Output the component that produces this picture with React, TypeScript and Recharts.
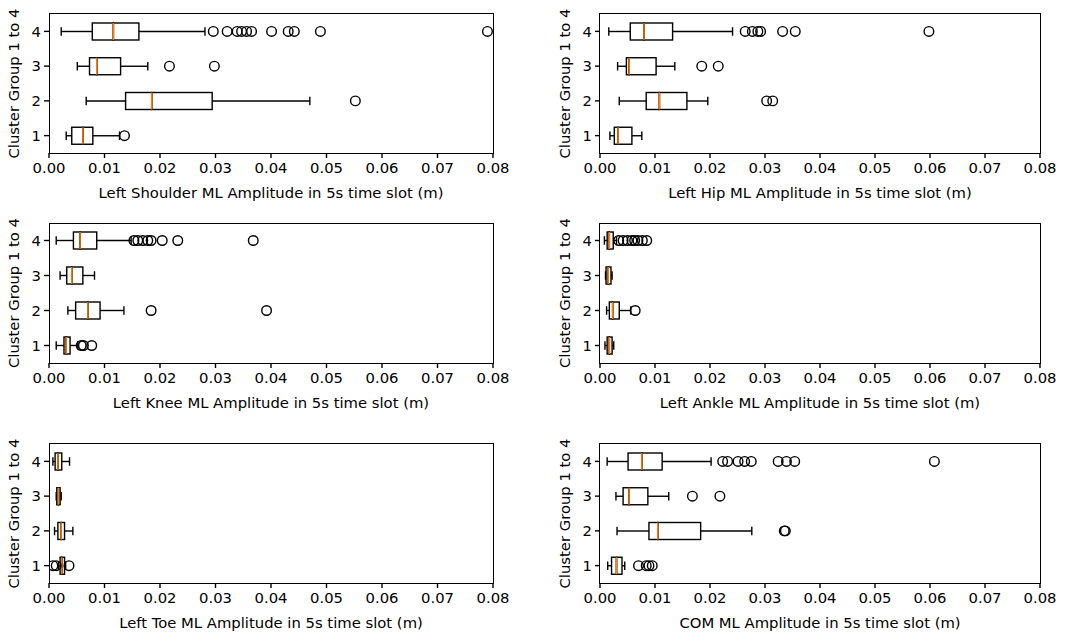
import React from "react";
import { Bar, ComposedChart, Scatter, XAxis, YAxis } from "recharts";

type Stat = { group: number; low: number; q1: number; med: number; q3: number; high: number };

const xTicks = [0, 0.01, 0.02, 0.03, 0.04, 0.05, 0.06, 0.07, 0.08];
const yTitle = "Cluster Group 1 to 4";

// five-number summaries, group 1..4
const shoulderStats: Stat[] = [
  { group: 1, low: 0.0031, q1: 0.0041, med: 0.0061, q3: 0.0079, high: 0.0127 },
  { group: 2, low: 0.0067, q1: 0.0138, med: 0.0185, q3: 0.0294, high: 0.047 },
  { group: 3, low: 0.0051, q1: 0.0073, med: 0.0086, q3: 0.0129, high: 0.0178 },
  { group: 4, low: 0.0022, q1: 0.0078, med: 0.0116, q3: 0.0162, high: 0.0281 },
];
const shoulderOutliers = [
  [0.0136],
  [0.0552],
  [0.0217, 0.0298],
  [0.0296, 0.0321, 0.0339, 0.0347, 0.0356, 0.0365, 0.0401, 0.0431, 0.0442, 0.0489, 0.079],
];

const hipStats: Stat[] = [
  { group: 1, low: 0.0018, q1: 0.0026, med: 0.0033, q3: 0.0058, high: 0.0076 },
  { group: 2, low: 0.0035, q1: 0.0084, med: 0.0108, q3: 0.0158, high: 0.0196 },
  { group: 3, low: 0.0032, q1: 0.0048, med: 0.0053, q3: 0.0102, high: 0.0136 },
  { group: 4, low: 0.0016, q1: 0.0055, med: 0.008, q3: 0.0132, high: 0.0241 },
];
const hipOutliers = [
  [],
  [0.0303, 0.0314],
  [0.0185, 0.0215],
  [0.0264, 0.0277, 0.0287, 0.0292, 0.0332, 0.0355, 0.0598],
];

const kneeStats: Stat[] = [
  { group: 1, low: 0.0013, q1: 0.0027, med: 0.0031, q3: 0.0038, high: 0.0052 },
  { group: 2, low: 0.0034, q1: 0.0048, med: 0.007, q3: 0.0092, high: 0.0135 },
  { group: 3, low: 0.002, q1: 0.0032, med: 0.0041, q3: 0.0061, high: 0.0082 },
  { group: 4, low: 0.0013, q1: 0.0044, med: 0.0056, q3: 0.0086, high: 0.0148 },
];
const kneeOutliers = [
  [0.0058, 0.0062, 0.0077],
  [0.0184, 0.0392],
  [],
  [0.0153, 0.016, 0.0169, 0.0178, 0.0184, 0.0204, 0.0232, 0.0368],
];

const ankleStats: Stat[] = [
  { group: 1, low: 0.0009, q1: 0.0013, med: 0.0017, q3: 0.0022, high: 0.0025 },
  { group: 2, low: 0.0012, q1: 0.0017, med: 0.0023, q3: 0.0035, high: 0.0056 },
  { group: 3, low: 0.001, q1: 0.0011, med: 0.0015, q3: 0.002, high: 0.0022 },
  { group: 4, low: 0.0008, q1: 0.0013, med: 0.0017, q3: 0.0024, high: 0.003 },
];
const ankleOutliers = [
  [],
  [0.0064],
  [],
  [0.0034, 0.0042, 0.005, 0.0058, 0.0063, 0.0069, 0.0077, 0.0085],
];

const toeStats: Stat[] = [
  { group: 1, low: 0.0017, q1: 0.002, med: 0.0023, q3: 0.0028, high: 0.003 },
  { group: 2, low: 0.001, q1: 0.0016, med: 0.0022, q3: 0.0028, high: 0.0043 },
  { group: 3, low: 0.0013, q1: 0.0014, med: 0.0017, q3: 0.002, high: 0.0022 },
  { group: 4, low: 0.0007, q1: 0.0011, med: 0.0016, q3: 0.0023, high: 0.0037 },
];
const toeOutliers = [[0.0007, 0.0013, 0.0036], [], [], []];

const comStats: Stat[] = [
  { group: 1, low: 0.0014, q1: 0.0021, med: 0.003, q3: 0.004, high: 0.0045 },
  { group: 2, low: 0.0031, q1: 0.0089, med: 0.0105, q3: 0.0183, high: 0.0276 },
  { group: 3, low: 0.0029, q1: 0.0042, med: 0.0053, q3: 0.0087, high: 0.0125 },
  { group: 4, low: 0.0013, q1: 0.0051, med: 0.0076, q3: 0.0113, high: 0.0202 },
];
const comOutliers = [
  [0.007, 0.0084, 0.0089, 0.0095],
  [0.0335, 0.0337],
  [0.0168, 0.0218],
  [0.0223, 0.0232, 0.0251, 0.0263, 0.0275, 0.0324, 0.0339, 0.0354, 0.0608],
];

const FONT = "DejaVu Sans, sans-serif";
const FS = 14.8;
const LW = 1.4;
const ORANGE = "#ff7f0e";

const Empty = () => <g />;

const WhiskerLow = (p: any) => {
  const cy = p.y + p.height / 2;
  const c = p.height / 4;
  return (
    <g stroke="#000" strokeWidth={LW}>
      <line x1={p.x} x2={p.x + p.width} y1={cy} y2={cy} />
      <line x1={p.x} x2={p.x} y1={cy - c} y2={cy + c} />
    </g>
  );
};

const WhiskerHigh = (p: any) => {
  const cy = p.y + p.height / 2;
  const c = p.height / 4;
  const xe = p.x + p.width;
  return (
    <g stroke="#000" strokeWidth={LW}>
      <line x1={p.x} x2={xe} y1={cy} y2={cy} />
      <line x1={xe} x2={xe} y1={cy - c} y2={cy + c} />
    </g>
  );
};

const BoxLeft = (p: any) => (
  <g strokeWidth={LW}>
    <rect x={p.x} y={p.y} width={p.width} height={p.height} fill="none" stroke="#000" />
    <line x1={p.x + p.width} x2={p.x + p.width} y1={p.y} y2={p.y + p.height} stroke={ORANGE} />
  </g>
);

const BoxRight = (p: any) => (
  <g strokeWidth={LW}>
    <rect x={p.x} y={p.y} width={p.width} height={p.height} fill="none" stroke="#000" />
    <line x1={p.x} x2={p.x} y1={p.y} y2={p.y + p.height} stroke={ORANGE} />
  </g>
);

const Flier = (p: any) => (
  <circle cx={p.cx} cy={p.cy} r={4.8} fill="none" stroke="#000" strokeWidth={LW} />
);

const XTitle = (p: any) => {
  const vb = p.viewBox;
  return (
    <text
      x={vb.x + vb.width / 2}
      y={vb.y + 39}
      textAnchor="middle"
      dominantBaseline="central"
      fontFamily={FONT}
      fontSize={FS}
      fill="#000"
    >
      {p.text}
    </text>
  );
};

const YTitle = (p: any) => {
  const vb = p.viewBox;
  const x = vb.x + vb.width - 36;
  const y = vb.y + vb.height / 2;
  return (
    <text
      x={x}
      y={y}
      textAnchor="middle"
      dominantBaseline="central"
      transform={`rotate(-90, ${x}, ${y})`}
      fontFamily={FONT}
      fontSize={FS}
      fill="#000"
    >
      {yTitle}
    </text>
  );
};

type PanelProps = {
  title: string;
  stats: Stat[];
  outliers: number[][];
  left: number;
  top: number;
  w: number;
  h: number;
};

function Panel({ title, stats, outliers, left, top, w, h }: PanelProps) {
  const rows = stats.map((s) => ({
    group: s.group,
    base: s.low,
    w1: s.q1 - s.low,
    b1: s.med - s.q1,
    b2: s.q3 - s.med,
    w2: s.high - s.q3,
  }));
  const fliers = outliers.flatMap((vals, i) => vals.map((v) => ({ group: stats[i].group, value: v })));
  const mL = 2;
  const yW = 47;
  const mT = 14;
  const xH = 30;
  const mB = 27;
  const mR = 24;
  const tickStyle = { fontFamily: FONT, fontSize: FS, fill: "#000" };
  return (
    <>
      <div style={{ position: "absolute", left: left - mL - yW, top: top - mT }}>
        <ComposedChart
          width={mL + yW + w + mR}
          height={mT + h + xH + mB}
          data={rows}
          layout="vertical"
          margin={{ top: mT, right: mR, left: mL, bottom: mB }}
          barSize={17}
        >
          <XAxis
            type="number"
            domain={[0, 0.08]}
            ticks={xTicks}
            interval={0}
            allowDataOverflow
            tickFormatter={(v: number) => v.toFixed(2)}
            axisLine={false}
            tickLine={{ stroke: "#000", strokeWidth: LW }}
            tickSize={5}
            tickMargin={4}
            tick={tickStyle}
            height={xH}
            label={<XTitle text={title} />}
          />
          <YAxis
            type="category"
            dataKey="group"
            reversed
            allowDuplicatedCategory={false}
            axisLine={false}
            tickLine={{ stroke: "#000", strokeWidth: LW }}
            tickSize={5}
            tickMargin={3}
            tick={tickStyle}
            width={yW}
            label={<YTitle />}
          />
          <Bar dataKey="base" stackId="s" shape={Empty} isAnimationActive={false} />
          <Bar dataKey="w1" stackId="s" shape={WhiskerLow} isAnimationActive={false} />
          <Bar dataKey="b1" stackId="s" shape={BoxLeft} isAnimationActive={false} />
          <Bar dataKey="b2" stackId="s" shape={BoxRight} isAnimationActive={false} />
          <Bar dataKey="w2" stackId="s" shape={WhiskerHigh} isAnimationActive={false} />
          <Scatter data={fliers} dataKey="value" shape={Flier} isAnimationActive={false} />
        </ComposedChart>
      </div>
      <div
        style={{
          position: "absolute",
          left: left - LW / 2,
          top: top - LW / 2,
          width: w + LW,
          height: h + LW,
          border: `${LW}px solid #000`,
          boxSizing: "border-box",
          pointerEvents: "none",
        }}
      />
    </>
  );
}

export default function App() {
  return (
    <div style={{ position: "absolute", left: 0, top: 0, width: 1084, height: 637, background: "#fff" }}>
      <Panel title="Left Shoulder ML Amplitude in 5s time slot (m)" stats={shoulderStats} outliers={shoulderOutliers} left={49.3} top={14} w={444} h={139} />
      <Panel title="Left Hip ML Amplitude in 5s time slot (m)" stats={hipStats} outliers={hipOutliers} left={600} top={14} w={440} h={139} />
      <Panel title="Left Knee ML Amplitude in 5s time slot (m)" stats={kneeStats} outliers={kneeOutliers} left={49.3} top={223.3} w={444} h={140} />
      <Panel title="Left Ankle ML Amplitude in 5s time slot (m)" stats={ankleStats} outliers={ankleOutliers} left={600} top={223.3} w={440} h={140} />
      <Panel title="Left Toe ML Amplitude in 5s time slot (m)" stats={toeStats} outliers={toeOutliers} left={49.3} top={444} w={444} h={139} />
      <Panel title="COM ML Amplitude in 5s time slot (m)" stats={comStats} outliers={comOutliers} left={600} top={444} w={440} h={139} />
    </div>
  );
}
